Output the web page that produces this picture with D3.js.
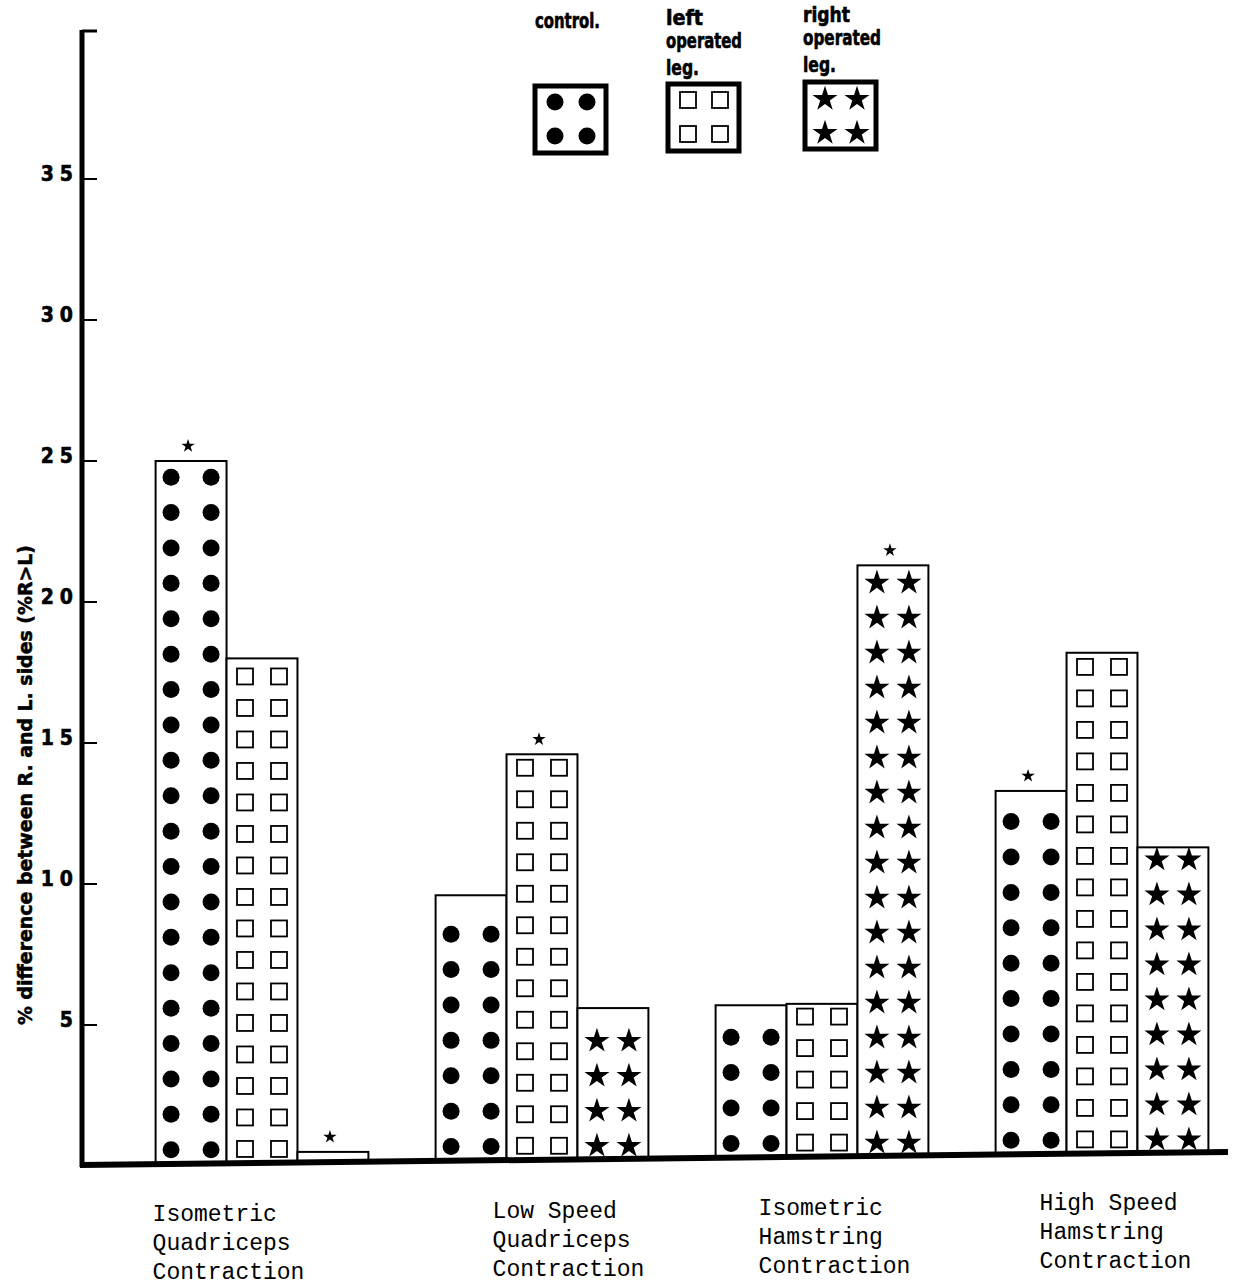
<!DOCTYPE html>
<html>
<head>
<meta charset="utf-8">
<script src="https://cdn.jsdelivr.net/npm/d3@7"></script>
<style>
  body { margin: 0; background: white; }
  svg { display: block; }
</style>
</head>
<body>
<div id="container"></div>
<script>
// data
let groupLabels = [
  ["Isometric", "Quadriceps", "Contraction"],
  ["Low Speed", "Quadriceps", "Contraction"],
  ["Isometric", "Hamstring", "Contraction"],
  ["High Speed", "Hamstring", "Contraction"]
];
let seriesNames = ["control", "left", "right"];
let controlValues = [25.0, 9.6, 5.7, 13.3];
let leftValues = [18.0, 14.6, 5.75, 18.2];
let rightValues = [0.5, 5.6, 21.3, 11.3];
// bars marked with a small star above them
let marked = [["control", "right"], ["left"], ["right"], ["control"]];
let yTicks = [5, 10, 15, 20, 25, 30, 35];

let w = 1235;
let h = 1288;
let axisX = 82;
let font = "'DejaVu Sans Condensed', 'DejaVu Sans', sans-serif";

let viz = d3.select("#container")
  .append("svg")
    .attr("width", w)
    .attr("height", h)
    .style("background-color", "white")
;

let yScale = d3.scaleLinear().domain([0, 35]).range([1166, 179]);

let xGroup = d3.scaleBand()
  .domain(d3.range(groupLabels.length))
  .range([122, 1242])
  .paddingInner(0.24)
  .paddingOuter(0.12);

let xSeries = d3.scaleBand()
  .domain(seriesNames)
  .range([0, xGroup.bandwidth()]);

// baseline is drawn a bit tilted like the original
function baseY(x){
  return 1165 - (x - axisX) * 13 / 1143;
}

let valuesBySeries = {control: controlValues, left: leftValues, right: rightValues};
let bars = [];
groupLabels.forEach(function(g, i){
  seriesNames.forEach(function(s){
    bars.push({group: i, series: s, value: valuesBySeries[s][i]});
  });
});

let starPath = d3.symbol().type(d3.symbolStar).size(195)();
let smallStar = d3.symbol().type(d3.symbolStar).size(55)();

function drawGlyph(sel, series, cx, cy){
  if(series == "control"){
    sel.append("circle").attr("cx", cx).attr("cy", cy).attr("r", 8.5).attr("fill", "black");
  }else if(series == "left"){
    sel.append("rect").attr("x", cx - 8).attr("y", cy - 8).attr("width", 16).attr("height", 16)
      .attr("fill", "white").attr("stroke", "black").attr("stroke-width", 1.8);
  }else{
    sel.append("path").attr("d", starPath).attr("transform", "translate(" + cx + "," + (cy + 1) + ")")
      .attr("fill", "black");
  }
}

let barGroup = viz.append("g").attr("class", "bars");

bars.forEach(function(d){
  let x0 = xGroup(d.group) + xSeries(d.series);
  let bw = xSeries.bandwidth();
  let top = yScale(d.value);
  let bottom = baseY(x0 + bw / 2);
  let g = barGroup.append("g");
  g.append("rect")
    .attr("x", x0)
    .attr("y", top)
    .attr("width", bw)
    .attr("height", bottom - top)
    .attr("fill", "white")
    .attr("stroke", "black")
    .attr("stroke-width", 2);

  let step = d.series == "left" ? 31.5 : (d.series == "right" ? 35 : 35.4);
  let dx = d.series == "control" ? 20 : (d.series == "left" ? 17 : 16);
  let cx = x0 + bw / 2;
  for(let cy = bottom - 14; cy - 9 >= top - 2; cy -= step){
    drawGlyph(g, d.series, cx - dx, cy);
    drawGlyph(g, d.series, cx + dx, cy);
  }

  if(marked[d.group].includes(d.series)){
    g.append("path")
      .attr("d", smallStar)
      .attr("transform", "translate(" + (cx - 3) + "," + (top - 15) + ")")
      .attr("fill", "black");
  }
});

// axes
viz.append("line")
  .attr("x1", axisX).attr("y1", 30).attr("x2", axisX).attr("y2", 1167)
  .attr("stroke", "black").attr("stroke-width", 5);
viz.append("line")
  .attr("x1", axisX).attr("y1", 31).attr("x2", 97).attr("y2", 31)
  .attr("stroke", "black").attr("stroke-width", 3);
viz.append("line")
  .attr("x1", axisX - 2).attr("y1", baseY(axisX)).attr("x2", 1228).attr("y2", baseY(1228))
  .attr("stroke", "black").attr("stroke-width", 6);

let tickGroup = viz.append("g").attr("class", "yticks");
yTicks.forEach(function(t){
  tickGroup.append("line")
    .attr("x1", axisX + 2).attr("x2", 97)
    .attr("y1", yScale(t)).attr("y2", yScale(t))
    .attr("stroke", "black").attr("stroke-width", 2);
  tickGroup.append("text")
    .attr("x", 79)
    .attr("y", yScale(t) + 2)
    .attr("text-anchor", "end")
    .attr("font-family", font)
    .attr("font-stretch", "condensed")
    .attr("font-weight", "bold")
    .attr("font-size", 21)
    .attr("letter-spacing", 6)
    .attr("stroke", "black")
    .attr("stroke-width", 0.6)
    .text(t);
});

viz.append("text")
  .attr("transform", "translate(32, 1025) rotate(-90)")
  .attr("font-family", font)
  .attr("font-stretch", "condensed")
  .attr("font-weight", "bold")
  .attr("font-size", 20)
  .attr("stroke", "black")
  .attr("stroke-width", 0.5)
  .attr("textLength", 480)
  .attr("lengthAdjust", "spacingAndGlyphs")
  .text("% difference between R. and L. sides (%R>L)");

// category labels under the axis
let labelShift = [-3, 57, 43, 44];
let labelTop = [1221, 1218, 1215, 1210];
groupLabels.forEach(function(lines, i){
  let t = viz.append("text")
    .attr("font-family", "'Liberation Mono', 'Courier New', monospace")
    .attr("font-size", 23)
    .attr("fill", "black");
  lines.forEach(function(line, j){
    t.append("tspan")
      .attr("x", xGroup(i) + labelShift[i])
      .attr("y", labelTop[i] + j * 29)
      .text(line);
  });
});

// legend
let legendItems = [
  {series: "control", lines: ["control."], widths: [65], x: 535, y: 28, box: [535, 86]},
  {series: "left", lines: ["left", "operated", "leg."], widths: [37, 76, 33], x: 666, y: 25, box: [668, 84]},
  {series: "right", lines: ["right", "operated", "leg."], widths: [47, 78, 33], x: 803, y: 22, box: [805, 82]}
];
let legend = viz.append("g").attr("class", "legend");
legendItems.forEach(function(item){
  let t = legend.append("text")
    .attr("font-family", font)
    .attr("font-stretch", "condensed")
    .attr("font-weight", "bold")
    .attr("font-size", 21)
    .attr("stroke", "black")
    .attr("stroke-width", 0.6)
    .attr("fill", "black");
  item.lines.forEach(function(line, j){
    t.append("tspan")
      .attr("x", item.x)
      .attr("y", item.y + j * 23 + (j == 2 ? 4 : 0))
      .attr("textLength", item.widths[j])
      .attr("lengthAdjust", "spacingAndGlyphs")
      .text(line);
  });
  let bx = item.box[0], by = item.box[1];
  legend.append("rect")
    .attr("x", bx).attr("y", by).attr("width", 71).attr("height", 67)
    .attr("fill", "white").attr("stroke", "black").attr("stroke-width", 5);
  let gl = legend.append("g");
  [[bx + 20, by + 16], [bx + 52, by + 16], [bx + 20, by + 50], [bx + 52, by + 50]].forEach(function(p){
    drawGlyph(gl, item.series, p[0], p[1]);
  });
});
</script>
</body>
</html>
